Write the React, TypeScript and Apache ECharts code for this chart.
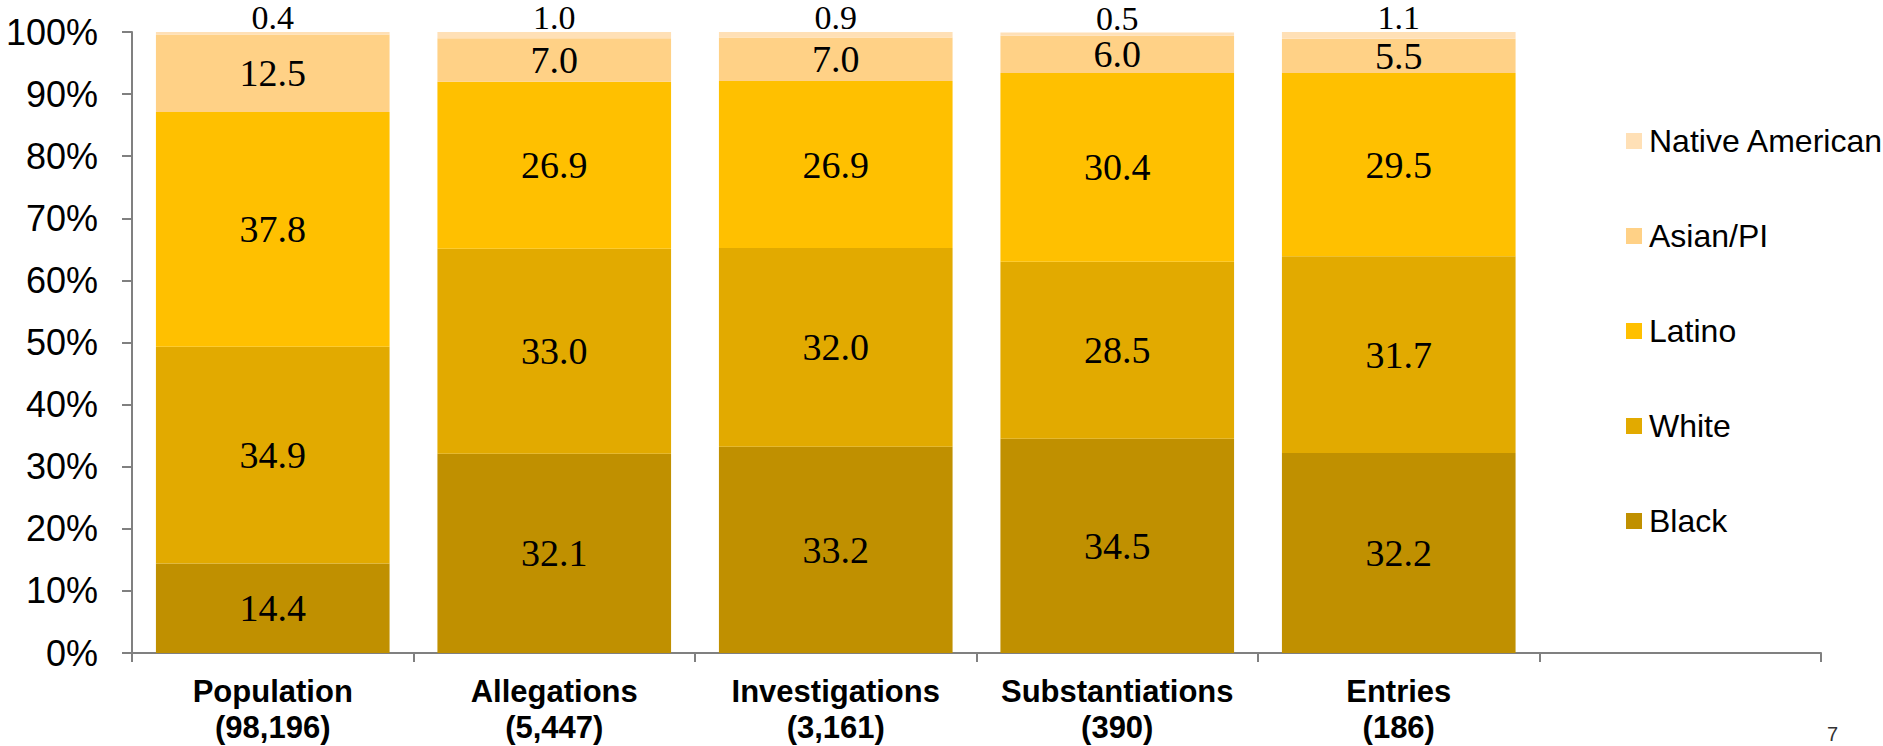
import React, { useEffect, useRef } from "react";
import * as echarts from "echarts";

const categories = [
  "Population\n(98,196)",
  "Allegations\n(5,447)",
  "Investigations\n(3,161)",
  "Substantiations\n(390)",
  "Entries\n(186)",
  "",
];
const black = [14.4, 32.1, 33.2, 34.5, 32.2];
const white = [34.9, 33.0, 32.0, 28.5, 31.7];
const latino = [37.8, 26.9, 26.9, 30.4, 29.5];
const asianPI = [12.5, 7.0, 7.0, 6.0, 5.5];
const nativeAmerican = [0.4, 1.0, 0.9, 0.5, 1.1];
const yTicks = [0, 10, 20, 30, 40, 50, 60, 70, 80, 90, 100];

const SANS = "'Liberation Sans', Arial, sans-serif";
const SERIF = "'Liberation Serif', 'Times New Roman', serif";

export default function App() {
  const ref = useRef<HTMLDivElement>(null);
  useEffect(() => {
    document.body.style.margin = "0";
    if (!ref.current) return;
    const chart = echarts.init(ref.current, null, { renderer: "svg" });
    const mk = (name: string, data: number[], color: string, top = false) => ({
      name,
      type: "bar",
      stack: "total",
      data,
      barWidth: "83%",
      itemStyle: { color },
      label: {
        show: true,
        position: top ? "top" : "inside",
        distance: top ? 2.5 : 5,
        lineHeight: top ? 24 : 40,
        formatter: (p: any) => Number(p.value).toFixed(1),
        fontFamily: SERIF,
        fontSize: top ? 34 : 38,
        color: "#000",
      },
    });
    chart.setOption({
      animation: false,
      grid: {
        left: 132,
        right: 62,
        top: 32,
        bottom: 93,
        containLabel: false,
        outerBoundsMode: "none",
      },
      legend: {
        orient: "vertical",
        left: 1621,
        top: 120,
        itemWidth: 16,
        itemHeight: 16,
        itemGap: 63,
        icon: "rect",
        data: ["Native American", "Asian/PI", "Latino", "White", "Black"],
        textStyle: { fontFamily: SANS, fontSize: 32, color: "#000", padding: [0, 0, 0, 2] },
      },
      xAxis: {
        type: "category",
        data: categories,
        axisLine: { lineStyle: { color: "#808080", width: 2 } },
        axisTick: { show: true, interval: 0, length: 9, lineStyle: { color: "#808080", width: 2 } },
        axisLabel: {
          interval: 0,
          margin: 20,
          fontFamily: SANS,
          fontWeight: "bold",
          fontSize: 31,
          lineHeight: 36,
          color: "#000",
        },
      },
      yAxis: {
        type: "value",
        min: yTicks[0],
        max: yTicks[yTicks.length - 1],
        interval: 10,
        splitLine: { show: false },
        axisLine: { show: true, lineStyle: { color: "#808080", width: 2 } },
        axisTick: { show: true, length: 10, lineStyle: { color: "#808080", width: 2 } },
        axisLabel: {
          margin: 34,
          fontFamily: SANS,
          fontSize: 36,
          color: "#000",
          formatter: "{value}%",
        },
      },
      series: [
        mk("Black", black, "#C09000"),
        mk("White", white, "#E2AA00"),
        mk("Latino", latino, "#FFC000"),
        mk("Asian/PI", asianPI, "#FFD186"),
        mk("Native American", nativeAmerican, "#FFE0B6", true),
      ],
      graphic: [
        {
          type: "text",
          left: 1827,
          top: 724,
          style: { text: "7", fontFamily: SANS, fontSize: 20, fill: "#333" },
        },
      ],
    });
    return () => chart.dispose();
  }, []);
  return <div ref={ref} style={{ width: 1883, height: 746 }} />;
}
